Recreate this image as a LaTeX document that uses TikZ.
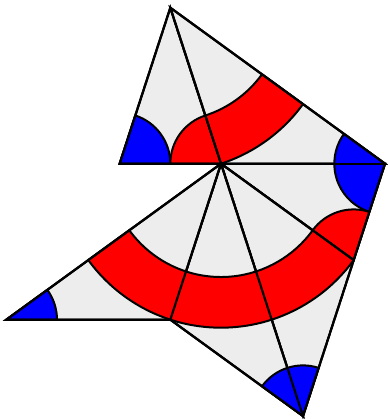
\documentclass[tikz,border=0pt]{standalone}
\usetikzlibrary{calc}
\definecolor{lgrey}{RGB}{237,237,237}
\begin{document}
\begin{tikzpicture}[x=1pt,y=1pt,
  tri/.style={fill=lgrey,draw=black,line width=2.2pt,line join=miter},
  bluesec/.style={fill=blue,draw=black,line width=2pt,line join=round},
  redsec/.style={fill=red,draw=black,line width=2pt,line join=round},
  edge/.style={draw=black,line width=2.2pt,line join=miter}]
\useasboundingbox (0,0) rectangle (387,419);
\def\a{164}
\def\b{101.36}
\def\ab{265.36}
\def\rr{50.68}
\def\ri{113.32}
\coordinate (C) at (221,255.3);
\coordinate (L1) at ($(C)+(180:\b)$);
\coordinate (T) at ($(C)+(108:\a)$);
\coordinate (R) at ($(C)+(0:\a)$);
\coordinate (P) at ($(C)+(-36:\a)$);
\coordinate (B) at ($(C)+(-72:\ab)$);
\coordinate (Q) at ($(C)+(-108:\a)$);
\coordinate (L2) at ($(C)+(-144:\ab)$);
% grey triangles
\path[tri] (T)--(L1)--(C)--cycle;
\path[tri] (T)--(C)--(R)--cycle;
\path[tri] (C)--(R)--(P)--cycle;
\path[tri] (C)--(P)--(B)--cycle;
\path[tri] (C)--(B)--(Q)--cycle;
\path[tri] (C)--(Q)--(L2)--cycle;
% blue sectors
\path[bluesec] (L1) -- ++(0:\rr) arc[start angle=0,end angle=72,radius=\rr] -- cycle;
\path[bluesec] (R) -- ++(144:\rr) arc[start angle=144,end angle=252,radius=\rr] -- cycle;
\path[bluesec] (B) -- ++(72:\rr) arc[start angle=72,end angle=144,radius=\rr] -- cycle;
\path[bluesec] (L2) -- ++(0:\rr) arc[start angle=0,end angle=36,radius=\rr] -- cycle;
% red sectors and bands
\path[redsec] (C) -- ++(108:\rr) arc[start angle=108,end angle=180,radius=\rr] -- cycle;
\path[redsec] ($(T)+(-72:\ri)$) arc[start angle=-72,end angle=-36,radius=\ri]
  -- ($(T)+(-36:\a)$) arc[start angle=-36,end angle=-72,radius=\a] -- cycle;
\path[redsec] (P) -- ++(72:\rr) arc[start angle=72,end angle=144,radius=\rr] -- cycle;
\path[redsec] ($(C)+(-144:\ri)$) arc[start angle=-144,end angle=-36,radius=\ri]
  -- ($(C)+(-36:\a)$) arc[start angle=-36,end angle=-144,radius=\a] -- cycle;
% edges on top
\path[edge] (T)--(R)--(B)--(Q)--(L2)--(C)--(L1)--cycle;
\path[edge] (C)--(T);
\path[edge] (C)--(R);
\path[edge] (C)--(P);
\path[edge] (C)--(B);
\path[edge] (C)--(Q);
\end{tikzpicture}
\end{document}
